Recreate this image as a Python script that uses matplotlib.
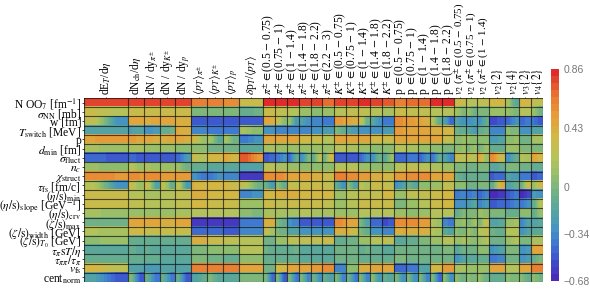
import matplotlib
matplotlib.use("Agg")
import matplotlib.pyplot as plt
from matplotlib.cm import ScalarMappable
from matplotlib.colors import LinearSegmentedColormap, Normalize

plt.rcParams['font.family'] = ['Liberation Serif', 'DejaVu Serif']
plt.rcParams['mathtext.fontset'] = 'stix'

VMIN, VMAX = -0.68, 0.86

param_labels = [
    r'N OO$_7$ [fm$^{-1}$]', r'$\sigma_{\mathrm{NN}}$ [mb]', 'w [fm]', r'$T_{\mathrm{switch}}$ [MeV]',
    'p', r'$d_{\mathrm{min}}$ [fm]', r'$\sigma_{\mathrm{fluct}}$', r'$n_c$', r'$\chi_{\mathrm{struct}}$',
    r'$\tau_{\mathrm{fs}}$ [fm/c]', r'$(\eta/\mathrm{s})_{\mathrm{min}}$',
    r'$(\eta/\mathrm{s})_{\mathrm{slope}}$ [GeV$^{-1}$]', r'$(\eta/\mathrm{s})_{\mathrm{crv}}$',
    r'$(\zeta/\mathrm{s})_{\mathrm{max}}$', r'$(\zeta/\mathrm{s})_{\mathrm{width}}$ [GeV]',
    r'$(\zeta/\mathrm{s})_{T_0}$ [GeV]', r'$\tau_\pi \mathrm{s}T/\eta$', r'$\tau_{\pi\pi}/\tau_\pi$',
    r'$v_{\mathrm{fs}}$', r'cent$_{\mathrm{norm}}$',
]

obs_labels = [
    r'dE$_T$/d$\eta$', r'dN$_{\mathrm{ch}}$/d$\eta$', r'dN / dy$_{\pi^{\pm}}$', r'dN / dy$_{K^{\pm}}$', r'dN / dy$_{p}$',
    r'$\langle p_T\rangle_{\pi^{\pm}}$', r'$\langle p_T\rangle_{K^{\pm}}$', r'$\langle p_T\rangle_{p}$',
    r'$\delta$p$_T$/$\langle p_T\rangle$',
    r'$\pi^{\pm}\in$(0.5 $-$ 0.75)', r'$\pi^{\pm}\in$(0.75 $-$ 1)', r'$\pi^{\pm}\in$(1 $-$ 1.4)',
    r'$\pi^{\pm}\in$(1.4 $-$ 1.8)', r'$\pi^{\pm}\in$(1.8 $-$ 2.2)', r'$\pi^{\pm}\in$(2.2 $-$ 3)',
    r'$K^{\pm}\in$(0.5 $-$ 0.75)', r'$K^{\pm}\in$(0.75 $-$ 1)', r'$K^{\pm}\in$(1 $-$ 1.4)',
    r'$K^{\pm}\in$(1.4 $-$ 1.8)', r'$K^{\pm}\in$(1.8 $-$ 2.2)',
    r'p $\in$(0.5 $-$ 0.75)', r'p $\in$(0.75 $-$ 1)', r'p $\in$(1 $-$ 1.4)', r'p $\in$(1.4 $-$ 1.8)', r'p $\in$(1.8 $-$ 2.2)',
    r'$v_2$ ($\pi^{\pm}\in$(0.5 $-$ 0.75)', r'$v_2$ ($\pi^{\pm}\in$(0.75 $-$ 1)', r'$v_2$ ($\pi^{\pm}\in$(1 $-$ 1.4)',
    r'$v_2\{2\}$', r'$v_2\{4\}$', r'$v_3\{2\}$', r'$v_4\{2\}$',
]

# number of centrality bins behind each observable column (column width)
obs_widths = [11, 4, 4, 4, 4, 4, 4, 4, 6, 3, 3, 3, 3, 3, 3, 3, 3, 3, 3, 3, 3, 3, 3, 3, 3, 3, 3, 3, 4, 3.5, 3, 3]

# Sensitivity per cell, (value at the cell's left edge, value at its right edge)
r_noo7 = [(.78,.76),(.78,.8),(.78,.78),(.76,.76),(.76,.76),(.62,.62),(.62,.62),(.6,.6),(.3,.3),
          (.82,.82),(.84,.84),(.82,.82),(.8,.78),(.76,.76),(.7,.7),(.76,.76),(.76,.76),(.85,.85),(.8,.8),(.72,.72),
          (.62,.62),(.66,.66),(.7,.7),(.84,.84),(.84,.84),(.33,.33),(.22,.22),(.28,.28),(.38,.38),(.15,-.15),(.35,.35),(.28,.28)]
r_sigma_nn = [(.3,.22),(.32,.32),(.3,.3),(.3,.3),(.3,.3),(.03,.03),(.03,.03),(.03,.03),(-.1,-.05),
              (.3,.3),(.28,.28),(.2,.2),(.12,.12),(.08,.08),(.12,.12),(.2,.2),(.28,.28),(.28,.28),(.2,.2),(.15,.15),
              (.32,.32),(.28,.28),(.28,.28),(.22,.22),(.2,.2),(.15,.02),(.1,-.05),(.0,.0),(.1,.1),(.1,.0),(.22,.22),(.12,-.05)]
r_w = [(.28,-.3),(.45,.45),(.42,.5),(.45,.45),(.4,.4),(-.5,-.5),(-.52,-.52),(-.52,-.52),(-.48,-.48),
       (.5,.42),(.3,.05),(.1,-.25),(-.2,-.3),(-.35,-.35),(-.38,-.38),(.55,.5),(.5,.4),(.3,-.05),(-.15,-.3),(-.4,-.4),
       (.58,.55),(.55,.5),(.48,.4),(.2,-.1),(-.2,-.45),(-.2,-.3),(-.3,-.25),(-.3,-.1),(-.55,-.5),(-.45,-.3),(-.45,-.4),(-.42,-.5)]
r_tswitch = [(-.2,-.2),(-.22,-.18),(-.3,-.25),(-.1,-.05),(.45,.4),(-.35,-.35),(-.4,-.4),(-.38,-.38),(.15,.05),
             (-.3,-.3),(-.35,-.35),(-.35,-.35),(-.35,-.35),(-.3,-.3),(-.25,-.25),(.0,-.1),(-.2,-.25),(-.3,-.3),(-.3,-.3),(-.25,-.25),
             (.55,.5),(.5,.5),(.5,.5),(.42,.42),(.38,.38),(-.05,-.1),(-.15,-.25),(-.1,-.05),(-.35,-.35),(.05,.0),(-.32,-.32),(-.2,-.2)]
r_p = [(.5,.55),(.55,.45),(.5,.42),(.42,.5),(.5,.42),(.35,.1),(.15,-.15),(.15,-.05),(-.4,-.3),
       (.5,.5),(.45,.5),(.45,.45),(.38,.38),(.32,.32),(.22,.22),(.48,.48),(.45,.45),(.45,.45),(.35,.35),(.32,.32),
       (.5,.5),(.5,.5),(.48,.48),(.45,.45),(.3,.3),(.05,.1),(.1,.05),(.05,.05),(-.25,-.2),(.05,.1),(-.02,-.02),(.15,.15)]
r_dmin = [(.15,.1),(.15,.15),(.12,.12),(.1,.1),(.08,.08),(.05,.05),(-.05,-.05),(-.05,-.05),(-.12,-.12),
          (.18,.18),(.1,.1),(.1,.1),(.12,.12),(.1,.1),(.1,.1),(.22,.22),(.18,.18),(.12,.12),(.08,.08),(.08,.08),
          (.2,.2),(.18,.18),(.1,.1),(.05,.05),(.03,.03),(.05,.1),(.02,.1),(-.02,.1),(-.1,-.1),(.12,.12),(.02,.02),(.0,.0)]
r_sigma_fluct = [(-.45,-.5),(-.45,-.5),(-.48,-.48),(-.5,-.48),(-.45,-.25),(.3,.2),(.35,.35),(.45,.35),(.75,.55),
                 (-.5,-.45),(-.4,-.3),(-.45,-.1),(-.3,.0),(-.1,.25),(-.05,.35),(-.5,-.5),(-.5,-.48),(-.45,-.3),(-.3,-.05),(-.15,.1),
                 (-.45,-.45),(-.4,-.4),(-.45,-.3),(-.4,-.1),(-.2,-.35),(.32,.22),(.3,.2),(.45,.1),(.6,.3),(-.3,-.1),(.22,.15),(.48,.35)]
r_nc = [(.1,.05),(.22,.1),(.15,.12),(.1,.1),(.1,-.05),(-.1,-.1),(-.15,-.12),(-.15,-.15),(-.18,-.18),
        (.2,.2),(.15,.15),(.1,.1),(.05,.05),(.05,.05),(.05,.05),(.2,.2),(.2,.2),(.12,.12),(.08,.08),(.05,.05),
        (.22,.22),(.25,.25),(.2,.2),(.18,.18),(.12,.12),(.0,.0),(-.05,-.05),(.0,.0),(-.15,-.1),(.0,.0),(-.05,-.05),(-.1,-.1)]
r_chi = [(.58,.55),(.6,.55),(.6,.6),(.55,.55),(.55,.55),(-.3,-.4),(-.4,-.3),(-.35,-.35),(-.62,-.6),
         (.6,.58),(.58,.55),(.5,.5),(.45,.45),(.4,.4),(.3,.3),(.62,.62),(.6,.6),(.55,.55),(.42,.42),(.35,.35),
         (.55,.55),(.58,.58),(.58,.58),(.5,.5),(.45,.45),(-.05,-.12),(-.1,-.1),(-.1,-.1),(-.48,-.45),(-.2,-.25),(-.42,-.4),(-.5,-.45)]
r_tau_fs = [(.2,-.3),(.3,.1),(.3,-.2),(.25,-.1),(.25,-.25),(.4,.35),(.38,.38),(.35,.3),(.25,-.02),
            (-.05,-.25),(.08,-.1),(.3,.25),(.32,.32),(.32,.32),(.25,.25),(-.1,-.3),(.05,-.2),(.25,.15),(.3,.3),(.3,.25),
            (-.28,-.2),(-.05,-.15),(.05,.05),(.12,.12),(.25,.25),(.05,.05),(-.05,-.05),(.0,.0),(-.1,.4),(-.2,-.1),(-.05,.3),(.1,.35)]
r_eta_min = [(.32,.3),(.22,.22),(.18,.18),(.2,.2),(.25,.25),(.4,.4),(.38,.38),(.38,.38),(-.35,-.3),
             (.38,.38),(.4,.4),(.4,.4),(.35,.35),(.35,.35),(.35,.35),(.12,.12),(.2,.2),(.25,.25),(.28,.28),(.35,.35),
             (.12,.12),(.28,.28),(.28,.28),(.32,.32),(.38,.38),(-.4,-.35),(-.4,-.35),(-.45,-.35),(-.68,-.6),(-.5,-.4),(-.68,-.55),(-.25,-.3)]
r_eta_slope = [(.33,.3),(.25,.25),(.2,.2),(.22,.22),(.25,.25),(.35,.35),(.33,.33),(.3,.3),(.12,.1),
               (.3,.3),(.28,.28),(.3,.3),(.3,.3),(.3,.3),(.28,.28),(.12,.12),(.22,.22),(.3,.3),(.32,.32),(.32,.32),
               (.0,.0),(.1,.1),(.22,.22),(.32,.32),(.35,.35),(-.3,-.3),(-.25,-.15),(-.35,-.25),(-.5,-.45),(-.45,-.35),(-.4,-.3),(-.1,.2)]
r_eta_crv = [(.15,.12),(.12,.12),(.1,.1),(.12,.12),(.15,.15),(.22,.22),(.2,.2),(.2,.2),(.05,.03),
             (.18,.18),(.15,.15),(.15,.15),(.2,.2),(.18,.18),(.15,.15),(.1,.1),(.12,.12),(.2,.2),(.22,.22),(.2,.2),
             (.1,.1),(.05,.05),(.12,.12),(.2,.2),(.22,.22),(-.1,.0),(.0,.0),(.12,.05),(.0,.0),(-.1,-.1),(.05,.05),(-.1,.1)]
r_zeta_max = [(-.02,-.05),(.45,.45),(.45,.45),(.42,.42),(.45,.45),(-.6,-.6),(-.58,-.58),(-.58,-.58),(-.42,-.4),
              (.42,.42),(.0,-.1),(-.3,-.35),(-.5,-.5),(-.5,-.5),(-.52,-.52),(.6,.55),(.5,.45),(.0,-.2),(-.45,-.45),(-.55,-.5),
              (.58,.6),(.58,.6),(.55,.55),(.2,.1),(-.35,-.4),(.05,.1),(.0,.15),(.0,.3),(-.2,-.15),(.1,.15),(-.35,-.2),(-.2,-.15)]
r_zeta_width = [(.2,.15),(.35,.35),(.33,.33),(.32,.32),(.33,.33),(-.45,-.45),(-.45,-.45),(-.48,-.48),(-.35,-.35),
                (.32,.15),(.0,-.05),(-.18,-.18),(-.3,-.3),(-.3,-.3),(-.3,-.3),(.42,.42),(.4,.3),(.0,-.1),(-.28,-.3),(-.35,-.35),
                (.42,.45),(.42,.42),(.42,.42),(.2,.18),(-.12,-.2),(.05,.0),(.1,.0),(.2,.25),(-.05,-.1),(.2,.2),(-.3,-.2),(-.15,-.15)]
r_zeta_t0 = [(.08,.12),(-.08,-.08),(-.08,-.08),(-.1,-.1),(-.08,-.08),(.4,.4),(.33,.33),(.25,.25),(.22,.22),
             (-.02,-.02),(.1,.1),(.25,.25),(.28,.28),(.28,.28),(.3,.3),(-.1,-.1),(-.05,-.05),(.1,.1),(.2,.2),(.25,.25),
             (-.15,-.15),(-.1,-.1),(.02,.02),(.1,.1),(.2,.2),(.1,.15),(.1,.05),(.1,.2),(-.05,-.05),(.1,.2),(.0,.0),(.15,.15)]
r_tau_pi = [(-.12,-.12),(-.08,-.15),(-.1,-.15),(-.12,-.12),(-.12,-.12),(.02,.02),(.05,.05),(.05,.05),(.22,.22),
            (-.05,-.1),(-.08,-.08),(-.1,-.05),(-.12,-.12),(-.12,-.12),(-.12,-.12),(-.02,-.02),(-.02,-.02),(-.1,-.05),(-.1,-.1),(-.12,-.12),
            (-.02,-.02),(-.05,-.05),(-.02,-.02),(-.02,-.02),(.0,.0),(-.15,-.05),(-.05,-.05),(.05,.05),(-.28,-.2),(.0,.0),(-.3,-.25),(.45,.45)]
r_tau_pipi = [(-.08,-.08),(-.1,-.1),(-.1,-.1),(-.12,-.12),(-.12,-.12),(.0,.0),(-.05,-.05),(-.1,-.1),(.05,.05),
              (-.1,-.1),(-.08,-.08),(-.08,-.08),(-.12,-.12),(-.12,-.12),(-.12,-.12),(-.05,-.05),(-.02,-.02),(-.1,-.1),(-.08,-.08),(-.1,-.1),
              (.0,.0),(-.02,-.02),(-.02,-.02),(-.05,-.05),(-.05,-.05),(-.3,-.2),(-.15,-.15),(-.1,-.1),(-.4,-.35),(-.05,-.05),(-.3,-.25),(-.1,.0)]
r_vfs = [(.38,.25),(-.2,-.2),(-.22,-.22),(-.2,-.2),(-.2,-.2),(.65,.65),(.65,.65),(.65,.65),(.5,.45),
         (-.02,-.02),(.35,.35),(.5,.5),(.5,.5),(.55,.55),(.6,.6),(-.35,-.35),(.05,.05),(.42,.42),(.5,.5),(.5,.5),
         (-.45,-.45),(-.4,-.4),(-.2,-.2),(.38,.38),(.52,.52),(.15,.15),(.1,.1),(.12,.12),(.5,.45),(.2,.2),(.5,.5),(.62,.62)]
r_cent = [(-.2,-.5),(.0,-.5),(-.1,-.4),(-.1,-.4),(-.1,-.5),(-.2,-.1),(.0,-.15),(-.12,-.12),(.02,.02),
          (.0,-.45),(.0,-.5),(.0,-.4),(.0,-.35),(-.05,-.3),(-.1,-.2),(.0,-.35),(-.05,-.4),(.0,-.35),(.05,-.25),(-.1,-.15),
          (.0,-.3),(.0,-.3),(.0,-.35),(.0,-.45),(.05,-.3),(.05,-.05),(.05,.0),(.1,-.05),(-.1,-.1),(.05,.0),(.05,-.1),(.05,-.02)]

rows = [r_noo7, r_sigma_nn, r_w, r_tswitch, r_p, r_dmin, r_sigma_fluct, r_nc, r_chi, r_tau_fs,
        r_eta_min, r_eta_slope, r_eta_crv, r_zeta_max, r_zeta_width, r_zeta_t0, r_tau_pi, r_tau_pipi, r_vfs, r_cent]

cmap_nodes = [(-.68, '#4a2ab8'), (-.55, '#3d50cc'), (-.42, '#3f78d2'), (-.3, '#4696c0'),
              (-.18, '#56a5a0'), (-.05, '#6fb187'), (.08, '#93be6c'), (.22, '#b5c25a'),
              (.38, '#d2b845'), (.52, '#e6a03a'), (.66, '#ea7d33'), (.76, '#e5572e'), (.86, '#e12b2a')]
cmap = LinearSegmentedColormap.from_list(
    'sens', [((v - VMIN) / (VMAX - VMIN), c) for v, c in cmap_nodes], N=30)
norm = Normalize(VMIN, VMAX)

fig = plt.figure(figsize=(5.9, 3.04), dpi=100)
W, H = 590, 304
ax = fig.add_axes([84 / W, 1 - 282 / H, (543 - 84) / W, (282 - 98) / H])

edges = [0.0]
for w in obs_widths:
    edges.append(edges[-1] + w)

for i, row in enumerate(rows):
    for j, (left, right) in enumerate(row):
        ax.imshow([[left, right]], extent=(edges[j], edges[j + 1], i + 1, i), aspect='auto',
                  cmap=cmap, norm=norm, interpolation='bilinear', interpolation_stage='data', zorder=1)

ax.set_xlim(edges[0], edges[-1])
ax.set_ylim(len(rows), 0)

ax.set_xticks([(a + b) / 2 for a, b in zip(edges[:-1], edges[1:])])
ax.set_xticklabels(obs_labels, rotation=90, fontsize=8.3, ha='center', va='bottom')
ax.xaxis.tick_top()
ax.tick_params(axis='x', which='major', length=1, width=0.5, pad=1, direction='out')
# tick_top labels are label2; the three long v2 labels are set slightly smaller to stay in the frame
for tick in ax.xaxis.get_major_ticks()[25:28]:
    tick.label2.set_fontsize(7.8)

ax.set_yticks([i + .5 for i in range(len(rows))])
ax.set_yticklabels(param_labels, fontsize=8.3)
ax.tick_params(axis='y', which='major', length=1.5, width=0.5, pad=0.5)

ax.set_xticks(edges, minor=True)
ax.set_yticks(range(len(rows) + 1), minor=True)
ax.tick_params(which='minor', length=0)
ax.grid(which='minor', color='#111111', lw=0.8, alpha=0.7, zorder=3)
ax.grid(which='major', visible=False)
ax.set_axisbelow(False)
for s in ax.spines.values():
    s.set_visible(False)

cax = fig.add_axes([551 / W, 1 - 281 / H, 8 / W, 212 / H])
cb = fig.colorbar(ScalarMappable(norm=norm, cmap=cmap), cax=cax, ticks=[-.68, -.34, 0, .43, .86])
cb.outline.set_visible(False)
cb.ax.set_yticklabels(['\u22120.68', '\u22120.34', '0', '0.43', '0.86'], fontfamily='Liberation Sans',
                      fontsize=7.5, color='#777777')
cb.ax.tick_params(length=0, pad=3.5)

fig.savefig('out.png', dpi=100)
